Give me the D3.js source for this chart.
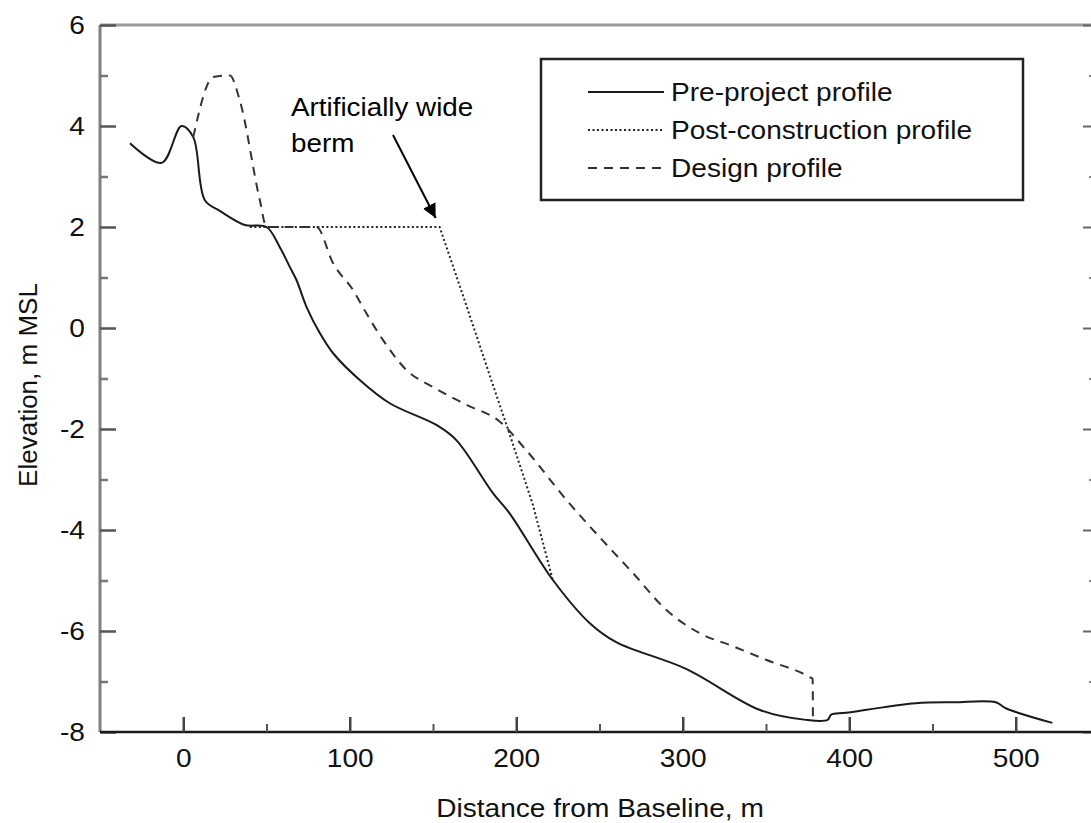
<!DOCTYPE html>
<html>
<head>
<meta charset="utf-8">
<script src="https://cdnjs.cloudflare.com/ajax/libs/d3/7.8.5/d3.min.js"></script>
<style>
  body { margin: 0; background: #fff; }
  svg { display: block; font-family: "Liberation Sans", Arial, sans-serif; }
</style>
</head>
<body>
<svg width="1091" height="823"></svg>
<script>
// Pre-project profile (distance m, elevation m MSL)
const preDist = [-32, -13, -1, 6, 13, 22, 37, 50, 58, 64, 68, 74, 82, 90, 106, 124, 152, 164, 186, 196, 222, 244, 260, 302, 346, 374, 387, 389, 398, 440, 463, 488, 494, 522];
const preElev = [3.66, 3.27, 4.0, 3.78, 2.53, 2.32, 2.04, 2.0, 1.6, 1.21, 0.95, 0.42, -0.1, -0.5, -1.03, -1.49, -1.92, -2.22, -3.27, -3.67, -4.99, -5.84, -6.22, -6.75, -7.56, -7.76, -7.76, -7.66, -7.62, -7.43, -7.41, -7.41, -7.53, -7.82];

// Post-construction profile
const postDist = [40, 154, 170, 185, 196, 210, 222];
const postElev = [2.0, 2.0, 0.45, -1.03, -2.1, -3.5, -5.0];

// Design profile
const designDist = [6, 18, 28, 34, 46, 50, 80, 90, 102, 110, 120, 134, 150, 170, 190, 206, 230, 250, 270, 290, 310, 330, 350, 376, 378, 378.2];
const designElev = [3.78, 4.97, 5.0, 4.5, 2.53, 2.0, 2.0, 1.28, 0.75, 0.29, -0.24, -0.83, -1.17, -1.52, -1.85, -2.42, -3.4, -4.14, -4.85, -5.58, -6.04, -6.3, -6.57, -6.91, -6.95, -7.75];

const xTicks = [0, 100, 200, 300, 400, 500];
const xMinor = [50, 150, 250, 350, 450];
const yTicks = [6, 4, 2, 0, -2, -4, -6, -8];
const yMinor = [5, 3, 1, -1, -3, -5, -7];
const legendLabels = ["Pre-project profile", "Post-construction profile", "Design profile"];

const svg = d3.select("svg");

const plotLeft = 100, plotRight = 1099, plotTop = 25, plotBottom = 732;
const fontSize = 26;
const stretch = "scale(1.08,1)"; // the scanned lettering is a bit wide

const xScale = d3.scaleLinear().domain([-50, 550]).range([plotLeft, plotRight]);
const yScale = d3.scaleLinear().domain([-8, 6]).range([plotBottom, plotTop]);

const styles = [
  { dash: null, color: "#1a1a1a", width: 2, curve: d3.curveCatmullRom.alpha(0.5) },
  { dash: "2,2.5", color: "#222", width: 2, curve: d3.curveLinear },
  { dash: "9,7", color: "#333", width: 2, curve: d3.curveMonotoneX }
];

// frame: top and left are grey in the scan, bottom is dark
svg.append("line").attr("x1", plotLeft).attr("x2", 1091).attr("y1", plotTop).attr("y2", plotTop)
   .attr("stroke", "#9a9a9a").attr("stroke-width", 3);
svg.append("line").attr("x1", plotLeft).attr("x2", plotLeft).attr("y1", plotTop).attr("y2", plotBottom)
   .attr("stroke", "#808080").attr("stroke-width", 3);

// left axis ticks (inward)
svg.append("g").attr("transform", `translate(${plotLeft},0)`)
   .call(d3.axisRight(yScale).tickValues(yTicks).tickSize(16).tickFormat(""))
   .call(g => g.select(".domain").remove())
   .call(g => g.selectAll("line").attr("stroke", "#555").attr("stroke-width", 2.5));
svg.append("g").attr("transform", `translate(${plotLeft},0)`)
   .call(d3.axisRight(yScale).tickValues(yMinor).tickSize(8).tickFormat(""))
   .call(g => g.select(".domain").remove())
   .call(g => g.selectAll("line").attr("stroke", "#777").attr("stroke-width", 2.5));

// right axis ticks (inward, axis itself is outside the picture)
svg.append("g").attr("transform", `translate(${plotRight},0)`)
   .call(d3.axisLeft(yScale).tickValues(yTicks).tickSize(16).tickFormat(""))
   .call(g => g.select(".domain").remove())
   .call(g => g.selectAll("line").attr("stroke", "#666").attr("stroke-width", 2));
svg.append("g").attr("transform", `translate(${plotRight},0)`)
   .call(d3.axisLeft(yScale).tickValues(yMinor).tickSize(10).tickFormat(""))
   .call(g => g.select(".domain").remove())
   .call(g => g.selectAll("line").attr("stroke", "#888").attr("stroke-width", 2));

// y tick labels (plain hyphen for negatives)
svg.append("g").attr("transform", `translate(${plotLeft},0)`)
   .call(d3.axisLeft(yScale).tickValues(yTicks).tickSize(0).tickPadding(14).tickFormat(d => String(d)))
   .call(g => g.select(".domain").remove())
   .call(g => g.selectAll("text").attr("font-size", fontSize).attr("fill", "#111")
              .attr("transform", stretch)
              .attr("font-family", "Liberation Sans, Arial, sans-serif"));

// bottom axis
svg.append("line").attr("x1", plotLeft).attr("x2", 1091).attr("y1", plotBottom).attr("y2", plotBottom)
   .attr("stroke", "#1a1a1a").attr("stroke-width", 2.5);
svg.append("g").attr("transform", `translate(0,${plotBottom})`)
   .call(d3.axisTop(xScale).tickValues(xTicks).tickSize(15).tickFormat(""))
   .call(g => g.select(".domain").remove())
   .call(g => g.selectAll("line").attr("stroke", "#444").attr("stroke-width", 2.5));
svg.append("g").attr("transform", `translate(0,${plotBottom})`)
   .call(d3.axisTop(xScale).tickValues(xMinor).tickSize(8).tickFormat(""))
   .call(g => g.select(".domain").remove())
   .call(g => g.selectAll("line").attr("stroke", "#555").attr("stroke-width", 2));
svg.append("g").attr("transform", `translate(0,${plotBottom})`)
   .call(d3.axisBottom(xScale).tickValues(xTicks).tickSize(0).tickPadding(17))
   .call(g => g.select(".domain").remove())
   .call(g => g.selectAll("text").attr("font-size", fontSize).attr("fill", "#111")
              .attr("transform", stretch)
              .attr("font-family", "Liberation Sans, Arial, sans-serif"));

// axis titles
svg.append("text")
   .attr("transform", `translate(600,817) ${stretch}`)
   .attr("text-anchor", "middle").attr("font-size", fontSize).attr("fill", "#111")
   .text("Distance from Baseline, m");
svg.append("text")
   .attr("transform", "translate(37,385) rotate(-90)")
   .attr("text-anchor", "middle").attr("font-size", fontSize).attr("fill", "#111")
   .text("Elevation, m MSL");

// profiles
const series = [
  d3.zip(preDist, preElev),
  d3.zip(postDist, postElev),
  d3.zip(designDist, designElev)
];
series.forEach((pts, i) => {
  const line = d3.line().x(d => xScale(d[0])).y(d => yScale(d[1])).curve(styles[i].curve);
  svg.append("path")
     .datum(pts)
     .attr("d", line)
     .attr("fill", "none")
     .attr("stroke", styles[i].color)
     .attr("stroke-width", styles[i].width)
     .attr("stroke-dasharray", styles[i].dash)
     .attr("stroke-linejoin", "round");
});

// legend
const legend = svg.append("g");
legend.append("rect")
      .attr("x", 541).attr("y", 59).attr("width", 482).attr("height", 141)
      .attr("fill", "#fff").attr("stroke", "#222").attr("stroke-width", 2.5);
legendLabels.forEach((label, i) => {
  const y = 92 + i * 38;
  legend.append("line")
        .attr("x1", 588).attr("x2", 664).attr("y1", y).attr("y2", y)
        .attr("stroke", styles[i].color).attr("stroke-width", 2)
        .attr("stroke-dasharray", styles[i].dash);
  legend.append("text")
        .attr("transform", `translate(671,${y}) ${stretch}`)
        .attr("dy", "0.35em")
        .attr("font-size", fontSize).attr("fill", "#111")
        .text(label);
});

// annotation
svg.append("defs").append("marker")
   .attr("id", "arrow").attr("viewBox", "0 0 10 10")
   .attr("refX", 10).attr("refY", 5)
   .attr("markerWidth", 7).attr("markerHeight", 8)
   .attr("markerUnits", "strokeWidth")
   .attr("orient", "auto")
   .append("path").attr("d", "M0,0 L10,5 L0,10 Z").attr("fill", "#000");

const note = svg.append("g").attr("font-size", 26).attr("fill", "#000");
note.append("text").attr("transform", "translate(291,116) scale(1.07,1)").text("Artificially wide");
note.append("text").attr("transform", "translate(291,152) scale(1.07,1)").text("berm");
svg.append("line")
   .attr("x1", 393).attr("y1", 135)
   .attr("x2", xScale(154) - 4).attr("y2", yScale(2) - 9)
   .attr("stroke", "#000").attr("stroke-width", 2)
   .attr("marker-end", "url(#arrow)");
</script>
</body>
</html>
